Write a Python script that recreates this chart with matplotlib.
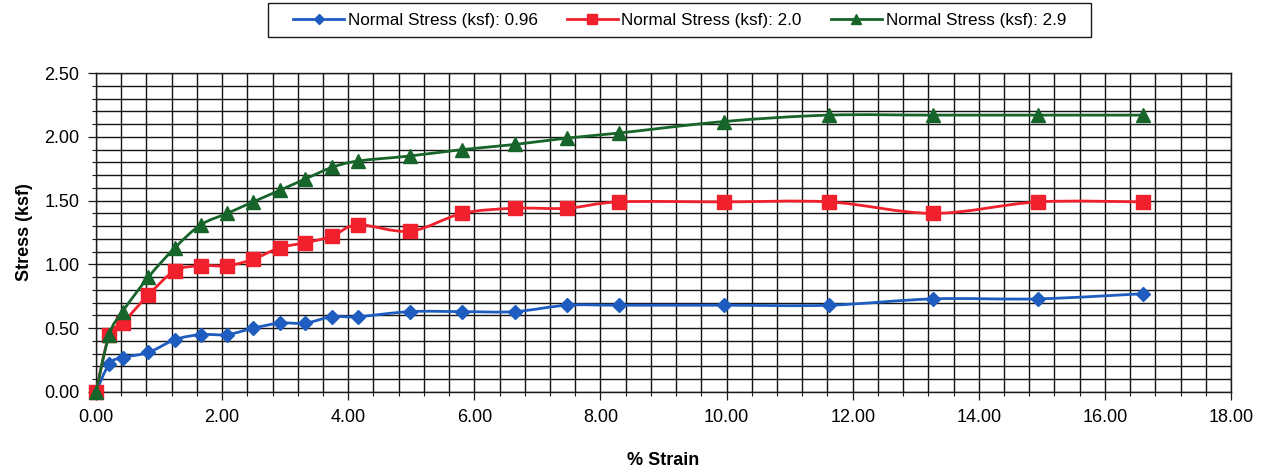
import numpy as np
import matplotlib
matplotlib.use("Agg")
import matplotlib.pyplot as plt
from matplotlib.path import Path
from matplotlib.patches import PathPatch, Rectangle
from matplotlib.lines import Line2D
from matplotlib.transforms import IdentityTransform
from matplotlib.ticker import MultipleLocator, FormatStrFormatter

plt.rcParams['font.family'] = ['Liberation Sans', 'DejaVu Sans']

# Strain readings (%) shared by all three tests
strain = [0.00, 0.21, 0.42, 0.83, 1.25, 1.66, 2.08, 2.49, 2.91, 3.32, 3.74,
          4.15, 4.98, 5.81, 6.64, 7.47, 8.30, 9.96, 11.62, 13.28, 14.94, 16.60]

# Shear stress (ksf) for each normal stress
stress_096 = [0.00, 0.22, 0.27, 0.31, 0.41, 0.45, 0.45, 0.50, 0.54, 0.54, 0.59,
              0.59, 0.63, 0.63, 0.63, 0.68, 0.68, 0.68, 0.68, 0.73, 0.73, 0.77]
stress_20 = [0.00, 0.45, 0.54, 0.76, 0.95, 0.99, 0.99, 1.04, 1.13, 1.17, 1.22,
             1.31, 1.26, 1.40, 1.44, 1.44, 1.49, 1.49, 1.49, 1.40, 1.49, 1.49]
stress_29 = [0.00, 0.45, 0.63, 0.90, 1.13, 1.31, 1.40, 1.49, 1.58, 1.67, 1.76,
             1.81, 1.85, 1.90, 1.94, 1.99, 2.03, 2.12, 2.17, 2.17, 2.17, 2.17]

labels = ["Normal Stress (ksf): 0.96", "Normal Stress (ksf): 2.0",
          "Normal Stress (ksf): 2.9"]
colors = ["#1f5cc0", "#f0202c", "#17652a"]
markers = ["D", "s", "^"]
msizes = [7.5, 9.5, 9.5]
legend_msizes = [5, 7, 7]
series = [stress_096, stress_20, stress_29]


def smooth_path(ax, x, y):
    """Bezier path through the points, spline smoothing done in display space."""
    pts = ax.transData.transform(np.column_stack([x, y]))
    n = len(pts)
    verts = [pts[0]]
    codes = [Path.MOVETO]
    for i in range(n - 1):
        p0 = pts[i - 1] if i > 0 else pts[i]
        p1 = pts[i]
        p2 = pts[i + 1]
        p3 = pts[i + 2] if i + 2 < n else pts[i + 1]
        c1 = p1 + (p2 - p0) / 6.0
        c2 = p2 - (p3 - p1) / 6.0
        verts += [c1, c2, p2]
        codes += [Path.CURVE4] * 3
    return Path(verts, codes)


fig = plt.figure(figsize=(12.67, 4.72), dpi=100)
ax = fig.add_axes([0.0758, 0.1695, 0.8958, 0.6758])

ax.set_xlim(0, 18)
ax.set_ylim(0, 2.5)
ax.xaxis.set_major_locator(MultipleLocator(2))
ax.xaxis.set_minor_locator(MultipleLocator(0.4))
ax.yaxis.set_major_locator(MultipleLocator(0.5))
ax.yaxis.set_minor_locator(MultipleLocator(0.1))
ax.xaxis.set_major_formatter(FormatStrFormatter('%.2f'))
ax.yaxis.set_major_formatter(FormatStrFormatter('%.2f'))
ax.grid(True, which='both', color='#141414', linewidth=1.0)
ax.set_axisbelow(True)
ax.tick_params(axis='both', which='major', length=6, width=0.9, labelsize=13,
               color='#1a1a1a', pad=6)
ax.tick_params(axis='both', which='minor', length=3, width=0.8, color='#1a1a1a')
for sp in ax.spines.values():
    sp.set_color('#1a1a1a')
    sp.set_linewidth(1.0)

fig.canvas.draw()

handles = []
for i, (ys, c, m, ms, lms) in enumerate(zip(series, colors, markers, msizes,
                                            legend_msizes)):
    path = smooth_path(ax, strain, ys)
    patch = PathPatch(path, facecolor='none', edgecolor=c, linewidth=2.0,
                      zorder=3 + i)
    patch.set_transform(IdentityTransform())
    patch.set_clip_path(ax.patch)
    ax.add_artist(patch)
    ax.plot(strain, ys, linestyle='none', marker=m, markersize=ms, color=c,
            markeredgecolor=c, zorder=3.5 + i, clip_on=False)
    handles.append(Line2D([], [], color=c, linewidth=2.0, marker=m,
                          markersize=lms, markeredgecolor=c))

ax.set_xlabel("% Strain", fontsize=13, fontweight='bold', labelpad=19)
ax.set_ylabel("Stress (ksf)", fontsize=13, fontweight='bold', labelpad=8)

# Legend entries without their own frame; a separate box surrounds them
leg = fig.legend(handles, labels, loc='center', ncol=3,
                 bbox_to_anchor=(0.5363, 0.9576), fontsize=12.3, frameon=False,
                 handlelength=3.0, handletextpad=0.2, columnspacing=1.7,
                 numpoints=1)
fig.patches.append(Rectangle((268 / 1267, 1 - 37 / 472), 823 / 1267, 34 / 472,
                             transform=fig.transFigure, facecolor='none',
                             edgecolor='#1a1a1a', linewidth=1.0))

fig.savefig("out.png", dpi=100)
